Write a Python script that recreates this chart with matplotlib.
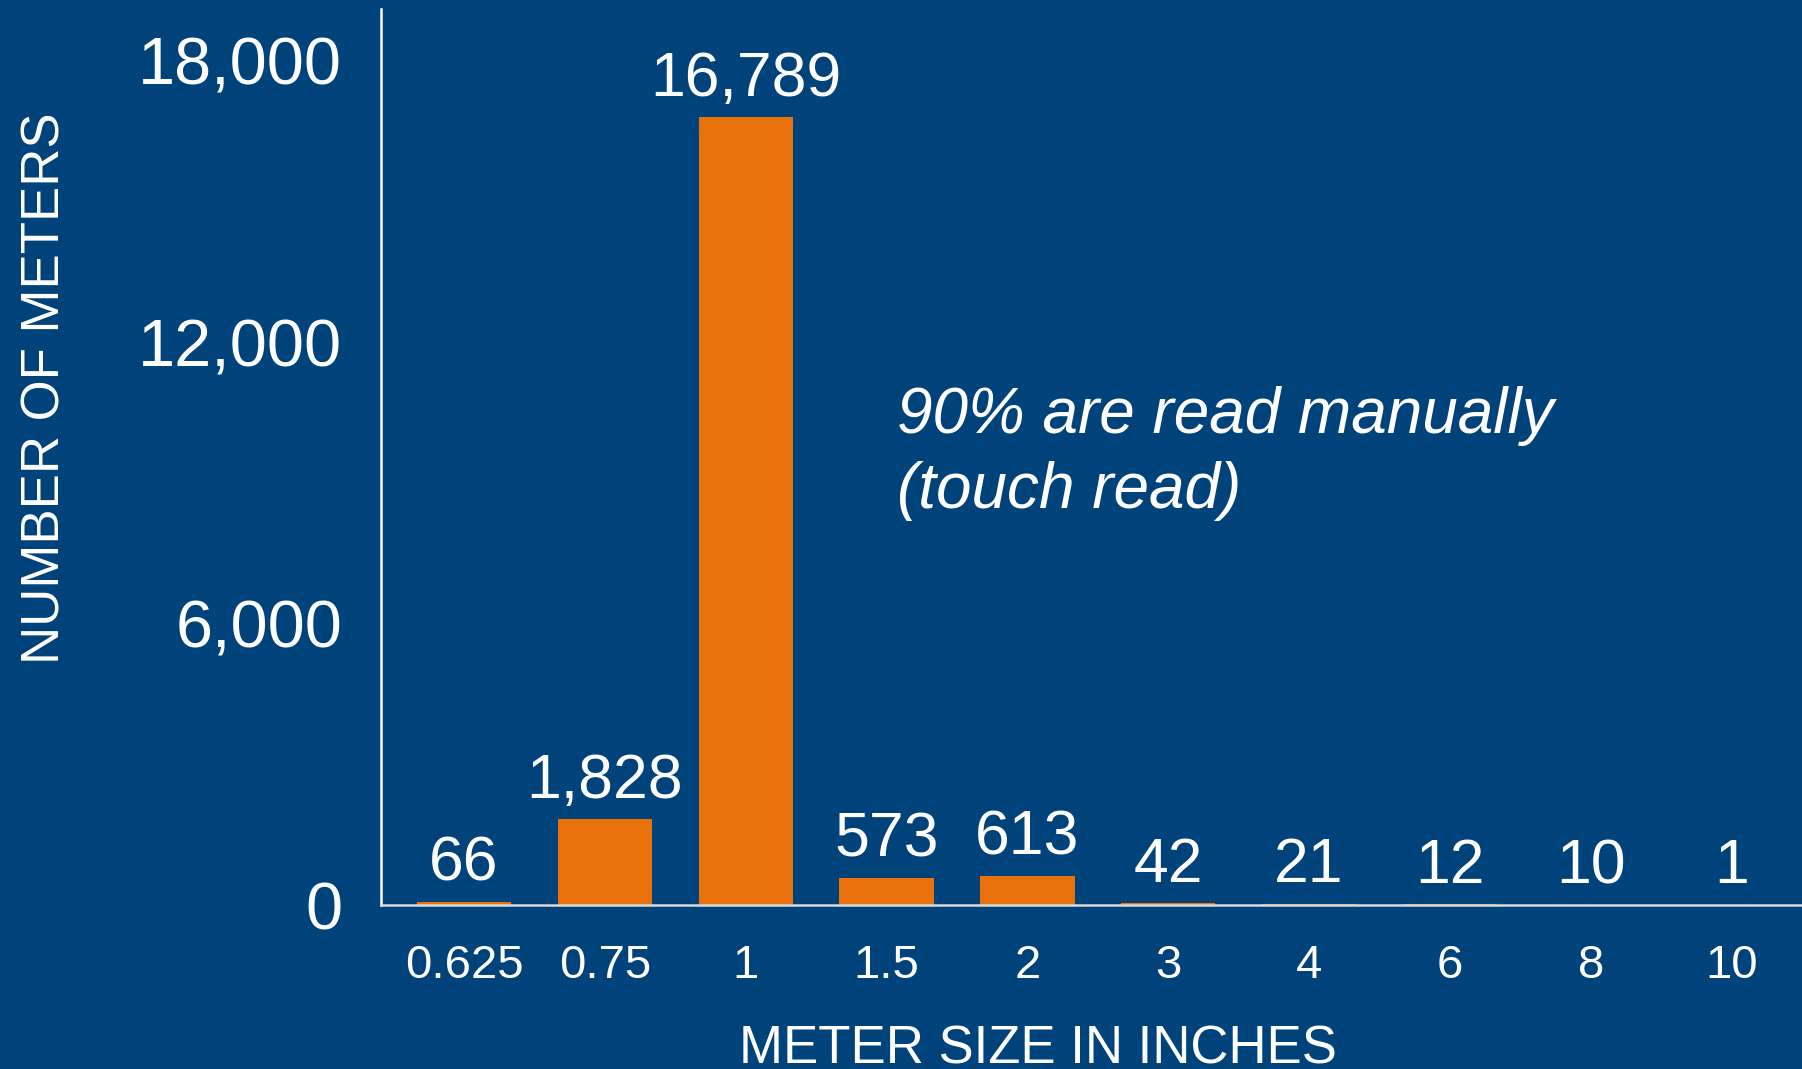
import matplotlib
matplotlib.use("Agg")
import matplotlib.pyplot as plt

plt.rcParams["font.family"] = ["Liberation Sans", "DejaVu Sans"]

# ---- data ----
sizes = ["0.625", "0.75", "1", "1.5", "2", "3", "4", "6", "8", "10"]
counts = [66, 1828, 16789, 573, 613, 42, 21, 12, 10, 1]
yticks = [0, 6000, 12000, 18000]

NAVY = "#00427A"
ORANGE = "#E8710B"
WHITE = "white"

fig = plt.figure(figsize=(18.02, 10.69), dpi=100, facecolor=NAVY)
ax = fig.add_axes([381 / 1802, 164 / 1069, 1 - 381 / 1802, (905 - 9) / 1069])
ax.set_facecolor(NAVY)

x = range(len(sizes))
ax.bar(x, counts, width=0.67, color=ORANGE, zorder=2)

for xi, v in zip(x, counts):
    ax.annotate(f"{v:,}", (xi, v), xytext=(0, 15.5), textcoords="offset points",
                ha="center", va="baseline", fontsize=45, color=WHITE)

ax.set_xlim(-0.59, len(sizes) - 0.5)
ax.set_ylim(0, 19100)
ax.set_xticks(list(x))
ax.set_xticklabels(sizes)
ax.set_yticks(yticks)
ax.set_yticklabels([f"{t:,}" for t in yticks])
ax.tick_params(axis="x", length=0, pad=28, labelsize=34, colors=WHITE)
ax.tick_params(axis="y", length=0, pad=28, labelsize=48, colors=WHITE)

for s in ("top", "right"):
    ax.spines[s].set_visible(False)
ax.spines["left"].set_color(WHITE)
ax.spines["left"].set_linewidth(1.8)
ax.spines["bottom"].set_color("#d9d9d9")
ax.spines["bottom"].set_linewidth(1.8)

fig.text(46 / 1802, 1 - 388 / 1069, "NUMBER OF METERS", rotation=90, ha="center", va="center",
         fontsize=38, color=WHITE)
fig.text(1038 / 1802, 1 - 1063 / 1069, "METER SIZE IN INCHES", ha="center", va="baseline",
         fontsize=38, color=WHITE)

# baseline of the last line
fig.text(897 / 1802, 1 - 508 / 1069, "90% are read manually\n(touch read)",
         ha="left", va="baseline", fontsize=46, style="italic", color=WHITE, linespacing=1.32)

fig.savefig("out.png", dpi=100, facecolor=NAVY)
